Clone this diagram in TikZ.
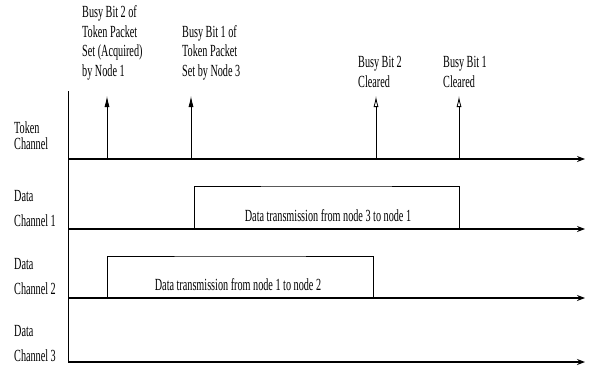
\documentclass[tikz,border=0pt]{standalone}
\usepackage{fontspec}
\setmainfont{Liberation Serif}[FakeStretch=0.6]
\usetikzlibrary{arrows.meta}
\tikzset{chans/.style={x=1pt,y=-1pt,font=\fontsize{17}{19.5}\selectfont},
  axis/.style={line width=1.2pt,-{Stealth[length=8pt,width=6pt]}},
  setbit/.style={line width=0.8pt,-{Latex[length=11pt,width=5pt]}},
  clrbit/.style={line width=0.8pt,-{Latex[open,length=11pt,width=5pt]}},
  busy/.style={line width=0.8pt},
  lbl/.style={anchor=base west,align=left,inner sep=0pt}}

\begin{document}
\begin{tikzpicture}[chans]
    \useasboundingbox (0,0) rectangle (589,375);
    \draw[busy] (68,91) -- (68,363);
    % channel name / y of its line
    \foreach \c/\y in {tok/159,dc1/229,dc2/298,dc3/362} {
      \coordinate (\c-l) at (68,\y);
      \coordinate (\c-r) at (585,\y);
    }
    % transmissions on the data channels
    \coordinate (t31a) at (194,229); \coordinate (t31b) at (459,229);
    \coordinate (t12a) at (107,298); \coordinate (t12b) at (373,298);
    \draw[busy] (t31a) |- (326,186) -| (t31b);
    \draw[busy] (t12a) |- (240,256) -| (t12b);
    \node[anchor=base] (m31) at (328,221) {Data transmission from node 3 to node 1};
    \node[anchor=base] (m12) at (238,290) {Data transmission from node 1 to node 2};
    \foreach \c in {tok,dc1,dc2,dc3} \draw[axis] (\c-l) -- (\c-r);
    % busy bits on the token channel
    \foreach \b/\x in {s2/107,s1/191,c2/376,c1/459} {
      \coordinate (\b-f) at (\x,159);
      \coordinate (\b-t) at (\x,96);
    }
    \draw[setbit] (s2-f) -- (s2-t);
    \draw[setbit] (s1-f) -- (s1-t);
    \draw[clrbit] (c2-f) -- (c2-t);
    \draw[clrbit] (c1-f) -- (c1-t);
    % base of a label = baseline of its last line
    \node[lbl] (ls2) at (82,76) {Busy Bit 2 of\\Token Packet\\Set (Acquired)\\by Node 1};
    \node[lbl] (ls1) at (182,76) {Busy Bit 1 of\\Token Packet\\Set by Node 3};
    \node[lbl] (lc2) at (358,87) {Busy Bit 2\\Cleared};
    \node[lbl] (lc1) at (443,87) {Busy Bit 1\\Cleared};
    % channel names
    \node[lbl] (ntok) at (14,149) {Token\\[-3.5pt]Channel};
    \node[lbl] (ndc1) at (14,226) {Data\\[5.5pt]Channel 1};
    \node[lbl] (ndc2) at (14,294) {Data\\[5.5pt]Channel 2};
    \node[lbl] (ndc3) at (14,361) {Data\\[5.5pt]Channel 3};
\end{tikzpicture}
\end{document}
